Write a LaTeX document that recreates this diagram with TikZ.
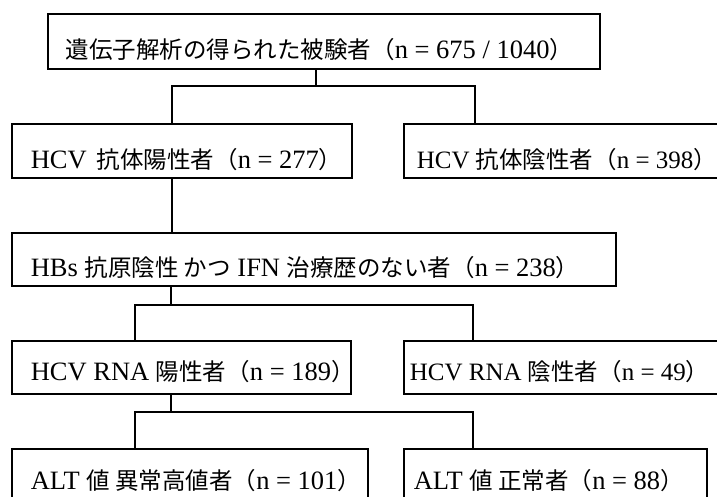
\documentclass[tikz,border=0pt]{standalone}
\usepackage{fontspec}
\setmainfont{Liberation Serif}
\newfontfamily\cjk{Noto Sans CJK JP}
\newcommand\J[1]{{\cjk\fontsize{23.5}{28}\selectfont #1}}
\newcommand\CP{{\cjk\fontsize{23.5}{28}\selectfont ）\kern-0.5em}}
\begin{document}
\begin{tikzpicture}[x=1pt,y=-1pt,line width=1.6pt,
  box/.style={draw,rectangle,anchor=north west,inner sep=0pt},
  lbl/.style={anchor=west,inner sep=0pt,font=\fontsize{26.5}{30}\selectfont},
  lbls/.style={lbl,font=\fontsize{25}{30}\selectfont}]
\clip (0,0) rectangle (717,497);
\fill[white] (0,0) rectangle (717,497);
% boxes
\node[box,minimum width=552pt,minimum height=55pt] (b1) at (47,13) {};
\node[box,minimum width=340pt,minimum height=54pt] (b2) at (11,123) {};
\node[box,minimum width=330pt,minimum height=54pt] (b3) at (403,123) {};
\node[box,minimum width=604pt,minimum height=53pt] (b4) at (11,232) {};
\node[box,minimum width=339pt,minimum height=53pt] (b5) at (11,340) {};
\node[box,minimum width=330pt,minimum height=53pt] (b6) at (403,340) {};
\node[box,minimum width=356pt,minimum height=70pt] (b7) at (11,448) {};
\node[box,minimum width=303pt,minimum height=70pt] (b8) at (403,448) {};
% labels
\node[lbl] (t1) at (65,50) {\J{遺伝子解析の得られた被験者（}n = 675 / 1040\CP};
\node[lbl] (t2) at (30,160) {HCV\hspace{10pt}\J{抗体陽性者（}n = 277\CP};
\node[lbls] (t3) at (416,160) {HCV \J{抗体陰性者（}n = 398\CP};
\node[lbl] (t4) at (30,268) {HBs \J{抗原陰性 かつ} IFN \J{治療歴のない者（}n = 238\CP};
\node[lbl] (t5) at (30,372) {HCV RNA \J{陽性者（}n = 189\CP};
\node[lbls] (t6) at (409,372) {HCV RNA \J{陰性者（}n = 49\CP};
\node[lbl] (t7) at (30,481) {ALT \J{値 異常高値者（}n = 101\CP};
\node[lbl] (t8) at (413,481) {ALT \J{値 正常者（}n = 88\CP};
% junctions
\coordinate (j1) at (316,86);
\coordinate (l1) at (172,86);
\coordinate (r1) at (475,86);
\coordinate (l2) at (135,305);
\coordinate (j2) at (171,305);
\coordinate (r2) at (473,305);
\coordinate (l3) at (135,412);
\coordinate (j3) at (171,412);
\coordinate (r3) at (473,412);
% connectors
\draw (b1.south -| j1) -- (j1);
\draw (b2.north -| l1) -- (l1) -- (r1) -- (b3.north -| r1);
\draw (b2.south -| l1) -- (b4.north -| l1);
\draw (b4.south -| j2) -- (j2);
\draw (b5.north -| l2) -- (l2) -- (r2) -- (b6.north -| r2);
\draw (b5.south -| j3) -- (j3);
\draw (b7.north -| l3) -- (l3) -- (r3) -- (b8.north -| r3);
\end{tikzpicture}
\end{document}
